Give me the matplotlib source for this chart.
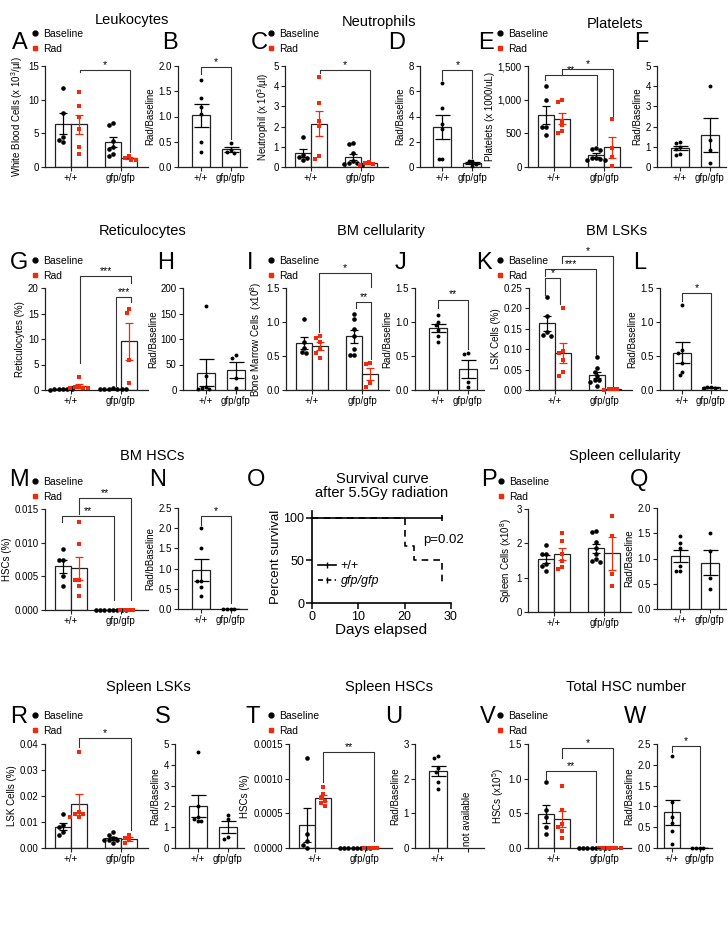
import numpy as np
import matplotlib
matplotlib.use('Agg')
import matplotlib.pyplot as plt
from matplotlib.lines import Line2D

plt.rcParams['font.family'] = ['Liberation Sans', 'DejaVu Sans']
plt.rcParams['mathtext.fontset'] = 'custom'
plt.rcParams['mathtext.rm'] = 'Liberation Sans'
plt.rcParams['mathtext.it'] = 'Liberation Sans:italic'

W, H = 728, 942
RED = '#f5280a'
GENOTYPES = ['+/+', 'gfp/gfp']

# ---- data ----
wbc_base_wt = [11.8, 8.0, 4.5, 4.0, 3.7]
wbc_rad_wt = [11.1, 9.0, 7.4, 5.6, 3.0, 2.0]
wbc_base_ko = [6.6, 6.3, 3.8, 3.0, 2.6, 1.9, 1.7]
wbc_rad_ko = [1.7, 1.3, 1.1, 1.0]
wbc_ratio_wt = [1.72, 1.37, 1.19, 1.04, 0.5, 0.3]
wbc_ratio_ko = [0.48, 0.33, 0.3, 0.28]

neut_base_wt = [1.5, 0.6, 0.35, 0.45, 0.5]
neut_rad_wt = [4.45, 3.15, 2.3, 2.05, 0.55, 0.4]
neut_base_ko = [1.2, 1.15, 0.7, 0.3, 0.2, 0.15, 0.1, 0.2]
neut_rad_ko = [0.25, 0.2, 0.15, 0.12]
neut_ratio_wt = [6.65, 4.7, 3.4, 3.0, 0.6, 0.66]
neut_ratio_ko = [0.5, 0.45, 0.25, 0.05]

plt_base_wt = [1200, 1000, 600, 600, 470]
plt_rad_wt = [1000, 960, 690, 620, 530, 510]
plt_base_ko = [280, 270, 250, 140, 120, 100, 110, 130]
plt_rad_ko = [710, 280, 150, 20]
plt_ratio_wt = [1.25, 1.2, 1.0, 0.9, 0.63, 0.6]
plt_ratio_ko = [4.0, 1.35, 0.85, 0.2]

ret_base_wt = [0.12, 0.1, 0.1, 0.08, 0.1, 0.11]
ret_rad_wt = [2.6, 0.6, 0.5, 0.4, 0.3, 0.3]
ret_base_ko = [0.3, 0.25, 0.2, 0.2, 0.15, 0.15, 0.1]
ret_rad_ko = [15.9, 15.1, 5.8, 1.3]
ret_ratio_wt = [165, 27, 5, 3, 2, 2]
ret_ratio_ko = [68, 63, 23, 3]

bm_base_wt = [1.04, 0.71, 0.62, 0.56, 0.55]
bm_rad_wt = [0.8, 0.76, 0.7, 0.6, 0.55, 0.47]
bm_base_ko = [1.12, 1.05, 0.9, 0.8, 0.61, 0.52, 0.52]
bm_rad_ko = [0.4, 0.38, 0.1, 0.05]
bm_ratio_wt = [1.1, 1.0, 0.95, 0.88, 0.8, 0.7]
bm_ratio_ko = [0.55, 0.53, 0.12, 0.05]

lsk_base_wt = [0.227, 0.181, 0.142, 0.135, 0.133]
lsk_rad_wt = [0.202, 0.096, 0.09, 0.073, 0.043, 0.035]
lsk_base_ko = [0.08, 0.055, 0.045, 0.035, 0.025, 0.02, 0.01, 0.025]
lsk_rad_ko = [0.003, 0.002, 0.002, 0.001]
lsk_ratio_wt = [1.25, 0.59, 0.55, 0.4, 0.27, 0.22]
lsk_ratio_ko = [0.05, 0.04, 0.03, 0.03]

hsc_base_wt = [0.009, 0.0075, 0.0075, 0.0051, 0.0035]
hsc_rad_wt = [0.013, 0.0098, 0.0044, 0.0044, 0.0036, 0.0021]
hsc_base_ko = [0, 0, 0, 0, 0, 0, 0, 0]
hsc_rad_ko = [0, 0, 0, 0]
hsc_ratio_wt = [2.0, 1.5, 0.7, 0.7, 0.55, 0.32]
hsc_ratio_ko = [0, 0, 0, 0]

surv_wt_days = [0, 28]
surv_wt_pct = [100, 100]
surv_ko_days = [0, 20, 22, 28]
surv_ko_pct = [100, 66.7, 50, 25]

spl_base_wt = [1.95, 1.7, 1.7, 1.4, 1.2, 1.35]
spl_rad_wt = [2.29, 2.07, 1.7, 1.5, 1.3, 1.25]
spl_base_ko = [2.37, 2.33, 2.05, 1.85, 1.7, 1.5, 1.45, 1.55]
spl_rad_ko = [2.8, 2.2, 1.1, 0.75]
spl_ratio_wt = [1.45, 1.3, 1.2, 0.85, 0.75, 0.75]
spl_ratio_ko = [1.5, 1.15, 0.62, 0.4]

slsk_base_wt = [0.013, 0.009, 0.008, 0.006, 0.005]
slsk_rad_wt = [0.037, 0.014, 0.013, 0.013, 0.012, 0.012]
slsk_base_ko = [0.006, 0.005, 0.004, 0.003, 0.003, 0.003, 0.002]
slsk_rad_ko = [0.005, 0.004, 0.003, 0.002]
slsk_ratio_wt = [4.6, 2.0, 1.5, 1.4, 1.3, 1.3]
slsk_ratio_ko = [1.6, 1.4, 0.55, 0.45]

shsc_base_wt = [0.0013, 0.0002, 0.0001, 0.00005, 0.0]
shsc_rad_wt = [0.00088, 0.00078, 0.00072, 0.00068, 0.00065, 0.0006]
shsc_base_ko = [0, 0, 0, 0, 0, 0, 0, 0]
shsc_rad_ko = [0, 0, 0, 0]
shsc_ratio_wt = [2.65, 2.6, 2.3, 2.2, 1.9, 1.7]

thsc_base_wt = [0.95, 0.55, 0.45, 0.3, 0.2]
thsc_rad_wt = [0.9, 0.55, 0.35, 0.3, 0.25, 0.15]
thsc_base_ko = [0, 0, 0, 0, 0, 0, 0, 0]
thsc_rad_ko = [0, 0, 0, 0, 0, 0]
thsc_ratio_wt = [2.2, 1.1, 0.75, 0.6, 0.4, 0.1]
thsc_ratio_ko = [0, 0, 0, 0]

fig = plt.figure(figsize=(W / 100, H / 100), dpi=100)


def add_ax(l, t, r, b):
    return fig.add_axes([l / W, 1 - b / H, (r - l) / W, (b - t) / H])


def style(ax, yticks, fmt, ylabel):
    for s in ['top', 'right']:
        ax.spines[s].set_visible(False)
    for s in ['left', 'bottom']:
        ax.spines[s].set_linewidth(0.9)
        ax.spines[s].set_color('#222222')
    ax.set_ylim(yticks[0], yticks[-1])
    ax.set_yticks(yticks)
    ax.set_yticklabels([fmt.format(v) for v in yticks])
    ax.tick_params(direction='out', length=3, width=0.8, labelsize=7, pad=1.5, color='#222222')
    ax.set_ylabel(ylabel, fontsize=7, labelpad=2)


def swarm(ax, x0, vals, marker, color, ms):
    # spread points sideways only where they would overlap
    vals = np.asarray(vals, float)
    tr = ax.transData
    ypx = tr.transform(np.column_stack([np.full(len(vals), x0), vals]))[:, 1]
    xpu = tr.transform((1, 0))[0] - tr.transform((0, 0))[0]
    d = ms * 100 / 72 * 0.95
    cands = [0]
    for k in range(1, 14):
        cands += [-k * d / 2, k * d / 2]
    placed = []
    xs = np.zeros(len(vals))
    for i in np.argsort(-vals):
        for c in cands:
            if all((c - px) ** 2 + (ypx[i] - py) ** 2 >= d * d for px, py in placed):
                break
        placed.append((c, ypx[i]))
        xs[i] = x0 + c / xpu
    ax.plot(xs, vals, ls='none', marker=marker, color=color, ms=ms,
            mew=0, zorder=4, clip_on=False)


def group_bar(ax, x, vals, color, marker, width, ms):
    v = np.asarray(vals, float)
    m = v.mean()
    sem = v.std(ddof=1) / np.sqrt(len(v))
    ax.bar(x, m, width, facecolor='white', edgecolor='#222222', linewidth=0.9, zorder=1)
    swarm(ax, x, v, marker, color, ms)
    ax.errorbar(x, m, yerr=sem, fmt='none', ecolor=color, elinewidth=0.9,
                capsize=width * 9, capthick=0.9, zorder=5)


def group_panel(box, base_wt, rad_wt, base_ko, rad_ko, yticks, fmt, ylabel):
    ax = add_ax(*box)
    ax.set_xlim(-0.52, 1.54)
    style(ax, yticks, fmt, ylabel)
    ax.set_xticks([0, 1])
    ax.set_xticklabels(GENOTYPES)
    for x, vals, col, mk in [(-0.16, base_wt, 'black', 'o'), (0.16, rad_wt, RED, 's'),
                             (0.84, base_ko, 'black', 'o'), (1.16, rad_ko, RED, 's')]:
        group_bar(ax, x, vals, col, mk, 0.32, 3.3)
    return ax


def ratio_panel(box, wt, ko, yticks, fmt, ylabel, xlim=(-0.75, 1.55)):
    ax = add_ax(*box)
    ax.set_xlim(*xlim)
    style(ax, yticks, fmt, ylabel)
    ax.set_xticks([0, 1])
    ax.set_xticklabels(GENOTYPES)
    group_bar(ax, 0, wt, 'black', 'o', 0.6, 2.8)
    if ko is not None:
        group_bar(ax, 1, ko, 'black', 'o', 0.6, 2.8)
    return ax


def bracket(ax, x1, x2, y, yl, yr, label):
    ax.plot([x1, x1, x2, x2], [yl, y, y, yr], color='#333333', lw=0.8,
            clip_on=False, zorder=6)
    ax.text((x1 + x2) / 2, y, label, ha='center', va='bottom', fontsize=7.5)


def legend_at(ax, x, y):
    h = [Line2D([], [], ls='none', marker='o', color='black', ms=3.5, label='Baseline'),
         Line2D([], [], ls='none', marker='s', color=RED, ms=3.5, label='Rad')]
    ax.legend(handles=h, loc='upper left', bbox_to_anchor=(x / W, 1 - y / H),
              bbox_transform=fig.transFigure, frameon=False, fontsize=7.5,
              handlelength=0.6, handletextpad=0.5, labelspacing=0.45,
              borderpad=0, borderaxespad=0)


def letter(x, y, s):
    fig.text(x / W, 1 - y / H, s, fontsize=17, ha='center', va='center')


def title(x, y, s):
    fig.text(x / W, 1 - y / H, s, fontsize=10.5, ha='center', va='center')


# ---- row 1 ----
title(132, 20, 'Leukocytes')
title(379, 22, 'Neutrophils')
title(615, 24, 'Platelets')

ax = group_panel((45, 66, 148, 167), wbc_base_wt, wbc_rad_wt, wbc_base_ko, wbc_rad_ko,
                 [0, 5, 10, 15], '{:.0f}', 'White Blood Cells (x 10$^3$/µl)')
legend_at(ax, 32, 29)
bracket(ax, 0.18, 1.18, 14.4, 14.1, 2.2, '*')
ax = ratio_panel((178, 66, 247, 167), wbc_ratio_wt, wbc_ratio_ko,
                 [0, 0.5, 1, 1.5, 2], '{:.1f}', 'Rad/Baseline')
bracket(ax, 0, 1, 1.98, 1.84, 0.55, '*')

ax = group_panel((285, 66, 388, 167), neut_base_wt, neut_rad_wt, neut_base_ko, neut_rad_ko,
                 [0, 1, 2, 3, 4, 5], '{:.0f}', 'Neutrophil (x 10$^3$/µl)')
legend_at(ax, 268, 29)
bracket(ax, 0.18, 1.18, 4.8, 4.65, 0.4, '*')
ax = ratio_panel((420, 66, 489, 167), neut_ratio_wt, neut_ratio_ko,
                 [0, 2, 4, 6, 8], '{:.0f}', 'Rad/Baseline')
bracket(ax, 0, 1, 7.7, 6.9, 0.75, '*')

ax = group_panel((528, 66, 631, 167), plt_base_wt, plt_rad_wt, plt_base_ko, plt_rad_ko,
                 [0, 500, 1000, 1500], '{:,.0f}', 'Platelets (x 1000/uL)')
legend_at(ax, 497, 29)
bracket(ax, -0.18, 0.86, 1366, 1290, 320, '**')
bracket(ax, 0.16, 1.18, 1460, 1365, 760, '*')
ratio_panel((657, 66, 726, 167), plt_ratio_wt, plt_ratio_ko,
            [0, 1, 2, 3, 4, 5], '{:.0f}', 'Rad/Baseline')

letter(20, 43, 'A'); letter(170, 43, 'B'); letter(259, 43, 'C')
letter(397, 43, 'D'); letter(486, 43, 'E'); letter(641, 43, 'F')

# ---- row 2 ----
title(143, 231, 'Reticulocytes')
title(381, 231, 'BM cellularity')
title(617, 231, 'BM LSKs')

ax = group_panel((45, 288, 148, 390), ret_base_wt, ret_rad_wt, ret_base_ko, ret_rad_ko,
                 [0, 5, 10, 15, 20], '{:.0f}', 'Reticulocytes (%)')
legend_at(ax, 32, 256)
bracket(ax, 0.18, 1.2, 22.3, 5.3, 21.0, '***')
bracket(ax, 0.9, 1.2, 18.2, 0.8, 17.2, '***')
ratio_panel((183, 288, 252, 390), ret_ratio_wt, ret_ratio_ko,
            [0, 50, 100, 150, 200], '{:.0f}', 'Rad/Baseline')

ax = group_panel((286, 288, 389, 390), bm_base_wt, bm_rad_wt, bm_base_ko, bm_rad_ko,
                 [0, 0.5, 1, 1.5], '{:.1f}', 'Bone Marrow Cells  (x10$^8$)')
legend_at(ax, 268, 256)
bracket(ax, 0.14, 1.18, 1.72, 0.85, 1.51, '*')
bracket(ax, 0.88, 1.18, 1.3, 1.21, 0.46, '**')
ax = ratio_panel((415, 288, 484, 390), bm_ratio_wt, bm_ratio_ko,
                 [0, 0.5, 1, 1.5], '{:.1f}', 'Rad/Baseline')
bracket(ax, 0, 1, 1.33, 1.2, 0.6, '**')

ax = group_panel((529, 288, 632, 390), lsk_base_wt, lsk_rad_wt, lsk_base_ko, lsk_rad_ko,
                 [0, 0.05, 0.1, 0.15, 0.2, 0.25], '{:.2f}', 'LSK Cells (%)')
legend_at(ax, 497, 256)
bracket(ax, -0.2, 0.1, 0.275, 0.233, 0.21, '*')
bracket(ax, -0.2, 0.82, 0.296, 0.279, 0.085, '***')
bracket(ax, 0.14, 1.16, 0.329, 0.3125, 0.01, '*')
ax = ratio_panel((660, 288, 727, 390), lsk_ratio_wt, lsk_ratio_ko,
                 [0, 0.5, 1, 1.5], '{:.1f}', 'Rad/Baseline')
bracket(ax, 0, 1, 1.425, 1.31, 0.1, '*')

letter(19, 263, 'G'); letter(166, 263, 'H'); letter(250, 263, 'I')
letter(400, 263, 'J'); letter(484, 263, 'K'); letter(640, 263, 'L')

# ---- row 3 ----
title(152, 456, 'BM HSCs')
title(625, 456, 'Spleen cellularity')

ax = group_panel((45, 509, 148, 610), hsc_base_wt, hsc_rad_wt, hsc_base_ko, hsc_rad_ko,
                 [0, 0.005, 0.01, 0.015], '{:.3f}', 'HSCs (%)')
legend_at(ax, 32, 477)
bracket(ax, -0.18, 0.86, 0.01395, 0.0131, 0.0015, '**')
bracket(ax, 0.16, 1.2, 0.0166, 0.0142, 0.0015, '**')
ax = ratio_panel((178, 508, 247, 609), hsc_ratio_wt, hsc_ratio_ko,
                 [0, 0.5, 1, 1.5, 2, 2.5], '{:.1f}', 'Rad/bBaseline')
bracket(ax, 0, 1, 2.29, 2.08, 0.15, '*')

# survival curve
fig.text(382 / W, 1 - 479 / H, 'Survival curve', fontsize=10.5, ha='center', va='center')
fig.text(382 / W, 1 - 493 / H, 'after 5.5Gy radiation', fontsize=10.5, ha='center', va='center')
ax = add_ax(312, 511, 451, 603)
ax.step(surv_wt_days, surv_wt_pct, where='post', color='black', lw=1.2)
ax.plot(surv_wt_days[-1:], surv_wt_pct[-1:], ls='none', marker='|', color='black', ms=5, mew=1.2)
ax.step(surv_ko_days, surv_ko_pct, where='post', color='black', lw=1.2, ls=(0, (4, 3)))
ax.set_xlim(0, 30)
ax.set_ylim(0, 108)
ax.set_xticks([0, 10, 20, 30])
ax.set_yticks([0, 50, 100])
for s in ['top', 'right']:
    ax.spines[s].set_visible(False)
for s in ['left', 'bottom']:
    ax.spines[s].set_linewidth(1.2)
ax.tick_params(direction='out', length=4, width=1.1, labelsize=9, pad=1.5)
ax.set_ylabel('Percent survival', fontsize=9.5, labelpad=1)
ax.set_xlabel('Days elapsed', fontsize=11, labelpad=0)
ax.text(24, 74, 'p=0.02', fontsize=9.5, va='center')
sh = [Line2D([], [], color='black', lw=1.2, marker='|', ms=5, mew=1, label='+/+'),
      Line2D([], [], color='black', lw=1.2, ls=(0, (3, 2)), marker='|', ms=5, mew=1,
             label='gfp/gfp')]
lg = ax.legend(handles=sh, loc='upper left', bbox_to_anchor=(318 / W, 1 - 560 / H),
               bbox_transform=fig.transFigure, frameon=False, fontsize=9,
               handlelength=1.4, handletextpad=0.4, labelspacing=0.25,
               borderpad=0, borderaxespad=0)
lg.get_texts()[1].set_style('italic')

ax = group_panel((528, 509, 631, 612), spl_base_wt, spl_rad_wt, spl_base_ko, spl_rad_ko,
                 [0, 1, 2, 3], '{:.0f}', 'Spleen Cells (x10$^8$)')
legend_at(ax, 498, 477)
ratio_panel((657, 508, 726, 609), spl_ratio_wt, spl_ratio_ko,
            [0, 0.5, 1, 1.5, 2], '{:.1f}', 'Rad/Baseline')

letter(19, 480, 'M'); letter(158, 480, 'N'); letter(256, 480, 'O')
letter(489, 480, 'P'); letter(639, 480, 'Q')

# ---- row 4 ----
title(148, 687, 'Spleen LSKs')
title(389, 687, 'Spleen HSCs')
title(626, 687, 'Total HSC number')

ax = group_panel((45, 744, 148, 848), slsk_base_wt, slsk_rad_wt, slsk_base_ko, slsk_rad_ko,
                 [0, 0.01, 0.02, 0.03, 0.04], '{:.2f}', 'LSK Cells (%)')
legend_at(ax, 32, 711)
bracket(ax, 0.16, 1.2, 0.0423, 0.039, 0.007, '*')
ratio_panel((175, 744, 244, 848), slsk_ratio_wt, slsk_ratio_ko,
            [0, 1, 2, 3, 4, 5], '{:.0f}', 'Rad/Baseline')

ax = group_panel((289, 744, 392, 848), shsc_base_wt, shsc_rad_wt, shsc_base_ko, shsc_rad_ko,
                 [0, 0.0005, 0.001, 0.0015], '{:.4f}', 'HSCs (%)')
legend_at(ax, 268, 711)
bracket(ax, 0.16, 1.18, 0.001385, 0.00095, 0.0001, '**')
ax = ratio_panel((415, 744, 484, 848), shsc_ratio_wt, None,
                 [0, 1, 2, 3], '{:.0f}', 'Rad/Baseline')
ax.set_xticklabels(['+/+', ''])
ax.text(1, 0.05, 'not available', rotation=90, ha='center', va='bottom', fontsize=7)

ax = group_panel((528, 744, 631, 848), thsc_base_wt, thsc_rad_wt, thsc_base_ko, thsc_rad_ko,
                 [0, 0.5, 1, 1.5], '{:.1f}', 'HSCs (x10$^5$)')
legend_at(ax, 497, 711)
bracket(ax, 0.16, 1.18, 1.44, 1.3, 0.08, '*')
bracket(ax, -0.16, 0.84, 1.11, 1.0, 0.08, '**')
ax = ratio_panel((657, 744, 712, 848), thsc_ratio_wt, thsc_ratio_ko,
                 [0, 0.5, 1, 1.5, 2, 2.5], '{:.1f}', 'Rad/Baseline', xlim=(-0.55, 1.45))
bracket(ax, 0, 1, 2.45, 2.3, 0.1, '*')

letter(19, 717, 'R'); letter(163, 717, 'S'); letter(253, 717, 'T')
letter(394, 717, 'U'); letter(488, 717, 'V'); letter(635, 717, 'W')

fig.savefig('out.png', dpi=100)
